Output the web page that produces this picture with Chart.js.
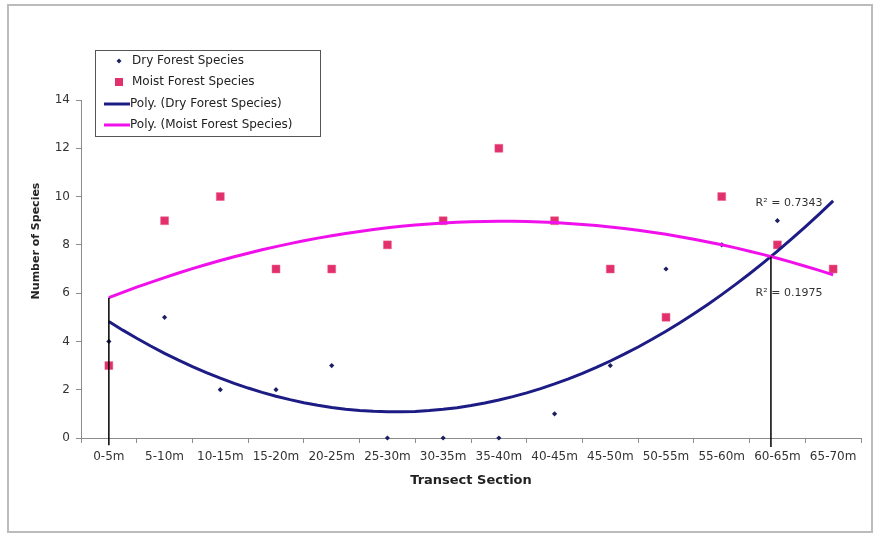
<!DOCTYPE html>
<html>
<head>
<meta charset="utf-8">
<title>Species by Transect Section</title>
<script src="https://cdn.jsdelivr.net/npm/chart.js@4.4.1/dist/chart.umd.min.js"></script>
<style>
  html, body { margin: 0; padding: 0; background: #fff; }
  #wrap { width: 874px; height: 535px; }
</style>
</head>
<body>
<div id="wrap"><canvas id="speciesChart" width="874" height="535"></canvas></div>
<script>
const sections = ["0-5m", "5-10m", "10-15m", "15-20m", "20-25m", "25-30m", "30-35m",
                  "35-40m", "40-45m", "45-50m", "50-55m", "55-60m", "60-65m", "65-70m"];
const drySpecies = [4, 5, 2, 2, 3, 0, 0, 0, 1, 3, 7, 8, 9, 7];
const moistSpecies = [3, 9, 10, 7, 7, 8, 9, 12, 9, 7, 5, 10, 8, 7];
const yTicks = [0, 2, 4, 6, 8, 10, 12, 14];

const xs = sections.map((s, i) => i + 1);

// second order least squares fit, same as a "Poly." trendline of order 2
function quadFit(x, y) {
    let n = x.length, s1 = 0, s2 = 0, s3 = 0, s4 = 0, t0 = 0, t1 = 0, t2 = 0;
    for (let i = 0; i < n; i++) {
        const a = x[i], b = y[i];
        s1 += a; s2 += a * a; s3 += a * a * a; s4 += a * a * a * a;
        t0 += b; t1 += a * b; t2 += a * a * b;
    }
    const det3 = m => m[0][0] * (m[1][1] * m[2][2] - m[1][2] * m[2][1])
                    - m[0][1] * (m[1][0] * m[2][2] - m[1][2] * m[2][0])
                    + m[0][2] * (m[1][0] * m[2][1] - m[1][1] * m[2][0]);
    const M = [[n, s1, s2], [s1, s2, s3], [s2, s3, s4]];
    const rhs = [t0, t1, t2];
    const D = det3(M);
    const coef = [0, 1, 2].map(c => det3(M.map((row, r) => row.map((v, k) => k === c ? rhs[r] : v))) / D);
    const f = v => coef[0] + coef[1] * v + coef[2] * v * v;
    const mean = t0 / n;
    let sse = 0, sst = 0;
    for (let i = 0; i < n; i++) {
        sse += (y[i] - f(x[i])) ** 2;
        sst += (y[i] - mean) ** 2;
    }
    return { coef, f, r2: 1 - sse / sst };
}

const dryFit = quadFit(xs, drySpecies);
const moistFit = quadFit(xs, moistSpecies);

function curvePoints(fit) {
    const pts = [];
    for (let v = 1; v <= 14.0001; v += 0.25) pts.push({ x: v, y: fit.f(v) });
    return pts;
}

// where the two trend curves cross (right hand root)
function crossing(a, b) {
    const A = a.coef[2] - b.coef[2], B = a.coef[1] - b.coef[1], C = a.coef[0] - b.coef[0];
    const d = Math.sqrt(B * B - 4 * A * C);
    const roots = [(-B + d) / (2 * A), (-B - d) / (2 * A)].filter(r => r >= 1 && r <= 14);
    return Math.max(...roots);
}
const xCross = crossing(dryFit, moistFit);

const FONT = "'DejaVu Sans', 'Liberation Sans', Arial, sans-serif";

// frame, legend box, axis titles and R² notes
const decorations = {
    id: "decorations",
    beforeDraw(chart) {
        const ctx = chart.ctx;
        ctx.save();
        ctx.fillStyle = "#fff";
        ctx.fillRect(0, 0, chart.width, chart.height);
        ctx.strokeStyle = "#bcbcbc";
        ctx.lineWidth = 2;
        ctx.strokeRect(8, 5, 864, 527);
        ctx.restore();
    },
    afterDraw(chart) {
        const ctx = chart.ctx;
        ctx.save();

        // axis titles
        ctx.fillStyle = "#222";
        ctx.textAlign = "center";
        ctx.textBaseline = "middle";
        ctx.font = "bold 13px " + FONT;
        ctx.fillText("Transect Section", 471, 481);
        ctx.save();
        ctx.translate(36, 241);
        ctx.rotate(-Math.PI / 2);
        ctx.font = "bold 11px " + FONT;
        ctx.fillText("Number of Species", 0, 0);
        ctx.restore();

        // R² notes
        ctx.font = "11px " + FONT;
        ctx.fillStyle = "#333";
        ctx.fillText("R\u00b2 = " + dryFit.r2.toFixed(4), 789, 203);
        ctx.fillText("R\u00b2 = " + moistFit.r2.toFixed(4), 789, 293);

        // guide line over the lower note
        const xs2 = chart.scales.x, ys2 = chart.scales.y;
        ctx.strokeStyle = "#000";
        ctx.lineWidth = 1.5;
        ctx.beginPath();
        ctx.moveTo(xs2.getPixelForValue(xCross), ys2.getPixelForValue(-0.37));
        ctx.lineTo(xs2.getPixelForValue(xCross), ys2.getPixelForValue(dryFit.f(xCross)));
        ctx.stroke();

        // legend
        ctx.strokeStyle = "#555";
        ctx.lineWidth = 1;
        ctx.strokeRect(95.5, 50.5, 225, 86);
        ctx.textAlign = "left";
        ctx.font = "12px " + FONT;
        ctx.fillStyle = "#222";
        const rows = [61, 82, 104, 125];
        ctx.fillStyle = "#1d2060";
        ctx.beginPath();
        ctx.moveTo(119, rows[0] - 2.5); ctx.lineTo(121.5, rows[0]);
        ctx.lineTo(119, rows[0] + 2.5); ctx.lineTo(116.5, rows[0]);
        ctx.fill();
        ctx.fillStyle = "#e2306c";
        ctx.fillRect(115, rows[1] - 4, 8, 8);
        ctx.lineWidth = 3;
        ctx.strokeStyle = "#1c1c84";
        ctx.beginPath(); ctx.moveTo(104, rows[2]); ctx.lineTo(130, rows[2]); ctx.stroke();
        ctx.strokeStyle = "#f010ec";
        ctx.beginPath(); ctx.moveTo(104, rows[3]); ctx.lineTo(130, rows[3]); ctx.stroke();
        ctx.fillStyle = "#222";
        ctx.fillText("Dry Forest Species", 132, rows[0]);
        ctx.fillText("Moist Forest Species", 132, rows[1]);
        ctx.fillText("Poly. (Dry Forest Species)", 130, rows[2]);
        ctx.fillText("Poly. (Moist Forest Species)", 130, rows[3]);

        ctx.restore();
    }
};

const ctx = document.getElementById("speciesChart").getContext("2d");
new Chart(ctx, {
    type: "scatter",
    data: {
        datasets: [
            {
                label: "start line",
                type: "line",
                data: [{ x: 1, y: -0.3 }, { x: 1, y: moistFit.f(1) }],
                borderColor: "#000",
                borderWidth: 1.5,
                pointRadius: 0,
                clip: false
            },
            {
                label: "Poly. (Moist Forest Species)",
                type: "line",
                data: curvePoints(moistFit),
                borderColor: "#f010ec",
                borderWidth: 3,
                pointRadius: 0,
                tension: 0
            },
            {
                label: "Poly. (Dry Forest Species)",
                type: "line",
                data: curvePoints(dryFit),
                borderColor: "#1c1c84",
                borderWidth: 3,
                pointRadius: 0,
                tension: 0
            },
            {
                label: "Moist Forest Species",
                data: moistSpecies.map((v, i) => ({ x: xs[i], y: v })),
                pointStyle: "rect",
                pointRadius: 5.6,
                backgroundColor: "#e2306c",
                borderColor: "#ea5a8a",
                borderWidth: 0.5,
                clip: false
            },
            {
                label: "Dry Forest Species",
                data: drySpecies.map((v, i) => ({ x: xs[i], y: v })),
                pointStyle: "rectRot",
                pointRadius: 2.6,
                backgroundColor: "#1d2060",
                borderColor: "#1d2060",
                borderWidth: 0,
                clip: false
            }
        ]
    },
    options: {
        responsive: false,
        animation: false,
        layout: { padding: { left: 0, top: 100, right: 13, bottom: 0 } },
        plugins: {
            legend: { display: false },
            tooltip: { enabled: false }
        },
        scales: {
            x: {
                type: "linear",
                min: 0.5,
                max: 14.5,
                afterBuildTicks: s => { s.ticks = xs.map(v => ({ value: v })); },
                afterFit: s => { s.height = 97; s.paddingLeft = 0; s.paddingRight = 0; },
                ticks: {
                    autoSkip: false,
                    maxRotation: 0,
                    padding: 7,
                    color: "#333",
                    font: { family: FONT, size: 12 },
                    callback: (v, i) => sections[i]
                },
                grid: { offset: true, drawOnChartArea: false, tickLength: 5, color: "#8c8c8c" },
                border: { color: "#8c8c8c", width: 1 }
            },
            y: {
                min: 0,
                max: 14,
                afterBuildTicks: s => { s.ticks = yTicks.map(v => ({ value: v })); },
                afterFit: s => { s.width = 81; },
                ticks: {
                    padding: 6,
                    color: "#333",
                    font: { family: FONT, size: 12 }
                },
                grid: { drawOnChartArea: false, tickLength: 5, color: "#8c8c8c" },
                border: { color: "#8c8c8c", width: 1 }
            }
        }
    },
    plugins: [decorations]
});
</script>
</body>
</html>
